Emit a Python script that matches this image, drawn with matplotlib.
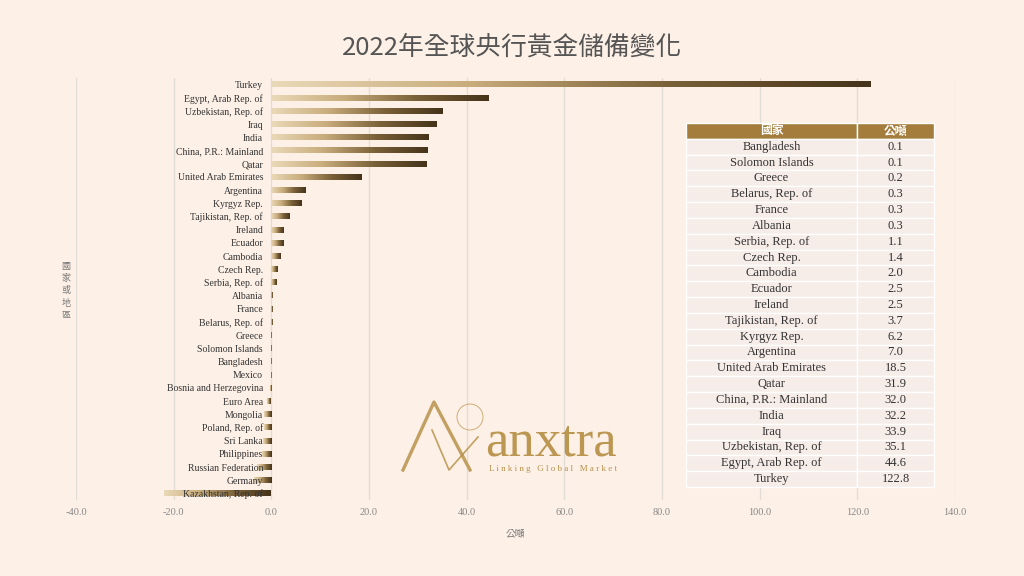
import matplotlib
matplotlib.use("Agg")
import matplotlib.pyplot as plt
import numpy as np
from matplotlib.colors import LinearSegmentedColormap
from matplotlib.lines import Line2D
from matplotlib.patches import Ellipse

countries = ["Turkey", "Egypt, Arab Rep. of", "Uzbekistan, Rep. of", "Iraq", "India",
             "China, P.R.: Mainland", "Qatar", "United Arab Emirates", "Argentina",
             "Kyrgyz Rep.", "Tajikistan, Rep. of", "Ireland", "Ecuador", "Cambodia",
             "Czech Rep.", "Serbia, Rep. of", "Albania", "France", "Belarus, Rep. of",
             "Greece", "Solomon Islands", "Bangladesh", "Mexico", "Bosnia and Herzegovina",
             "Euro Area", "Mongolia", "Poland, Rep. of", "Sri Lanka", "Philippines",
             "Russian Federation", "Germany", "Kazakhstan, Rep. of"]
tonnes = [122.8, 44.6, 35.1, 33.9, 32.2, 32.0, 31.9, 18.5, 7.0, 6.2, 3.7, 2.5, 2.5, 2.0,
          1.4, 1.1, 0.3, 0.3, 0.3, 0.2, 0.1, 0.1, -0.05, -0.3, -0.8, -1.6, -1.6, -1.7,
          -2.0, -2.9, -3.5, -21.9]

table_countries = ["Bangladesh", "Solomon Islands", "Greece", "Belarus, Rep. of", "France",
                   "Albania", "Serbia, Rep. of", "Czech Rep.", "Cambodia", "Ecuador",
                   "Ireland", "Tajikistan, Rep. of", "Kyrgyz Rep.", "Argentina",
                   "United Arab Emirates", "Qatar", "China, P.R.: Mainland", "India",
                   "Iraq", "Uzbekistan, Rep. of", "Egypt, Arab Rep. of", "Turkey"]
table_values = ["0.1", "0.1", "0.2", "0.3", "0.3", "0.3", "1.1", "1.4", "2.0", "2.5", "2.5",
                "3.7", "6.2", "7.0", "18.5", "31.9", "32.0", "32.2", "33.9", "35.1", "44.6",
                "122.8"]
table_header = ["國家", "公噸"]
x_ticks = [-40, -20, 0, 20, 40, 60, 80, 100, 120, 140]
y_label_chars = ["國", "家", "或", "地", "區"]

BG = "#FDF0E6"
CJK = ["Noto Sans CJK TC", "DejaVu Sans"]
SERIF = "Liberation Serif"

fig = plt.figure(figsize=(10.24, 5.76), dpi=100, facecolor=BG)
W, H = 1024, 576
ax = fig.add_axes([76 / W, 1 - 500 / H, (955 - 76) / W, (500 - 78) / H], facecolor=BG)

y = np.arange(len(countries))[::-1]
bars = ax.barh(y, tonnes, height=0.44, color="none", edgecolor="none", zorder=1)

cmap = LinearSegmentedColormap.from_list("gold", ["#EAD9B8", "#C8AC7C", "#7A6038", "#45331A"])
grad = np.linspace(0, 1, 256).reshape(1, -1)
for p in bars.patches:
    x0, y0 = p.get_x(), p.get_y()
    w, h = p.get_width(), p.get_height()
    xa, xb = (x0, x0 + w) if w >= 0 else (x0 + w, x0)
    if xb - xa <= 0:
        continue
    ax.imshow(grad, extent=[xa, xb, y0, y0 + h], aspect="auto", cmap=cmap,
              interpolation="bilinear", zorder=1)

for xv in x_ticks:
    ax.axvline(xv, color="#E2DCD6", linewidth=0.9, zorder=0)

ax.spines["left"].set_position(("data", 0))
for s in ax.spines.values():
    s.set_visible(False)
ax.set_xlim(-40, 140)
ax.set_ylim(-0.5, len(countries) - 0.5)
ax.set_xticks(x_ticks)
ax.set_xticklabels([f"{v:.1f}" for v in x_ticks])
ax.set_yticks(y)
ax.set_yticklabels(countries)
for t in ax.get_xticklabels():
    t.set_fontfamily(SERIF)
    t.set_fontsize(7.5)
    t.set_color("#888888")
for t in ax.get_yticklabels():
    t.set_fontfamily(SERIF)
    t.set_fontsize(7)
    t.set_color("#333333")
ax.tick_params(axis="both", length=0)
ax.tick_params(axis="x", pad=6)
ax.tick_params(axis="y", pad=6)
ax.set_axisbelow(False)
ax.xaxis.set_zorder(3)
ax.yaxis.set_zorder(3)

ax.set_xlabel("公噸", fontfamily=CJK, fontsize=7, color="#777777", labelpad=8)

for i, ch in enumerate(y_label_chars):
    fig.text(66 / W, 1 - (266 + i * 12.5) / H, ch, fontfamily=CJK, fontsize=6.5,
             color="#777777", ha="center", va="center")

fig.text(512 / W, 1 - 48 / H, "2022年全球央行黃金儲備變化", fontfamily=CJK, fontsize=18.5,
         color="#555555", ha="center", va="center")

# Logo watermark
gold = "#B8924A"
for (xs, ys, lw) in [([403, 434, 470], [470, 402, 470], 2.4),
                     ([432, 449, 478], [430, 470, 437], 1.2)]:
    fig.add_artist(Line2D([v / W for v in xs], [1 - v / H for v in ys], color=gold,
                          linewidth=lw, alpha=0.85))
circ = Ellipse((470 / W, 1 - 417 / H), 26 / W, 26 / H, transform=fig.transFigure, fill=False,
               edgecolor=gold, linewidth=0.7, alpha=0.7)
fig.add_artist(circ)
fig.text(551 / W, 1 - 455 / H, "anxtra", fontfamily=SERIF, fontsize=38, color=gold,
         ha="center", va="baseline", alpha=0.95)
fig.text(553 / W, 1 - 469 / H, "L i n k i n g   G l o b a l   M a r k e t", fontfamily=SERIF,
         fontsize=6.5, color=gold, ha="center", va="center")

# Table
tax = fig.add_axes([686 / W, 1 - 487 / H, (934 - 686) / W, (487 - 123) / H])
tax.axis("off")
cells = [[c, v] for c, v in zip(table_countries, table_values)]
tbl = tax.table(cellText=cells, colLabels=table_header, colWidths=[0.69, 0.31],
                cellLoc="center", bbox=[0, 0, 1, 1])
tbl.auto_set_font_size(False)
for (r, c), cell in tbl.get_celld().items():
    cell.set_edgecolor("#FFFFFF")
    cell.set_linewidth(1.0)
    if r == 0:
        cell.set_facecolor("#A47D3D")
        cell.get_text().set_color("white")
        cell.get_text().set_fontfamily(CJK)
        cell.get_text().set_fontsize(8.5)
        cell.get_text().set_fontweight("bold")
    else:
        cell.set_facecolor("#F6ECE8")
        cell.get_text().set_color("#333333")
        cell.get_text().set_fontfamily(SERIF)
        cell.get_text().set_fontsize(9)

fig.savefig("out.png", dpi=100, facecolor=BG)
